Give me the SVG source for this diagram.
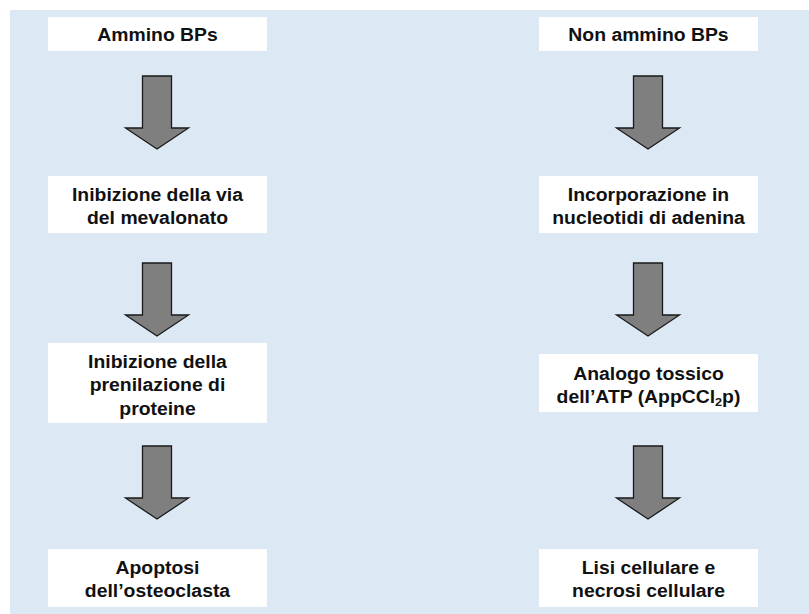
<svg xmlns="http://www.w3.org/2000/svg" width="809" height="614" viewBox="0 0 809 614">
<style>
.bg{fill:#dde8f5}
.box{fill:#ffffff}
.t{font-family:"Liberation Sans",Arial,sans-serif;font-weight:bold;font-size:17.6px;fill:#111;text-anchor:middle}
.arr{fill:#7f7f7f;stroke:#1a1a1a;stroke-width:1.3;stroke-linejoin:miter}
</style>
<defs>
<path id="ar" d="M-14.5,0 H14.5 V52 H31.5 L0,73 L-31.5,52 H-14.5 Z"/>
</defs>
<rect width="809" height="614" fill="#ffffff"/>
<rect class="bg" x="10" y="10" width="799" height="604"/>
<g id="connectors">
<use href="#ar" class="arr" x="157" y="76"/>
<use href="#ar" class="arr" x="157" y="263"/>
<use href="#ar" class="arr" x="157" y="446"/>
<use href="#ar" class="arr" x="648" y="76"/>
<use href="#ar" class="arr" x="648" y="263"/>
<use href="#ar" class="arr" x="648" y="446"/>
</g>
<g id="ammino">
<rect class="box" x="48" y="17" width="219" height="34"/>
<text class="t" transform="translate(157.5,41) scale(1.1,1)">Ammino BPs</text>
</g>
<g id="mevalonato">
<rect class="box" x="48" y="176" width="219" height="57"/>
<text class="t" transform="translate(157.5,201) scale(1.1,1)">Inibizione della via</text>
<text class="t" transform="translate(157.5,224.3) scale(1.1,1)">del mevalonato</text>
</g>
<g id="prenilazione">
<rect class="box" x="48" y="343" width="219" height="80"/>
<text class="t" transform="translate(157.5,368) scale(1.1,1)">Inibizione della</text>
<text class="t" transform="translate(157.5,391.3) scale(1.1,1)">prenilazione di</text>
<text class="t" transform="translate(157.5,414.6) scale(1.1,1)">proteine</text>
</g>
<g id="apoptosi">
<rect class="box" x="48" y="549" width="219" height="58"/>
<text class="t" transform="translate(157.5,574) scale(1.1,1)">Apoptosi</text>
<text class="t" transform="translate(157.5,597.3) scale(1.1,1)">dell’osteoclasta</text>
</g>
<g id="nonammino">
<rect class="box" x="539" y="17" width="219" height="34"/>
<text class="t" transform="translate(648.5,41) scale(1.1,1)">Non ammino BPs</text>
</g>
<g id="incorporazione">
<rect class="box" x="539" y="176" width="219" height="57"/>
<text class="t" transform="translate(648.5,201) scale(1.1,1)">Incorporazione in</text>
<text class="t" transform="translate(648.5,224.3) scale(1.1,1)">nucleotidi di adenina</text>
</g>
<g id="analogo">
<rect class="box" x="539" y="354" width="219" height="58"/>
<text class="t" transform="translate(648.5,380) scale(1.1,1)">Analogo tossico</text>
<text class="t" transform="translate(648.5,403.3) scale(1.1,1)">dell’ATP (AppCCl<tspan font-size="11.5" dy="3">2</tspan><tspan dy="-3">p)</tspan></text>
</g>
<g id="lisi">
<rect class="box" x="539" y="549" width="219" height="58"/>
<text class="t" transform="translate(648.5,574) scale(1.1,1)">Lisi cellulare e</text>
<text class="t" transform="translate(648.5,597.3) scale(1.1,1)">necrosi cellulare</text>
</g>
</svg>
